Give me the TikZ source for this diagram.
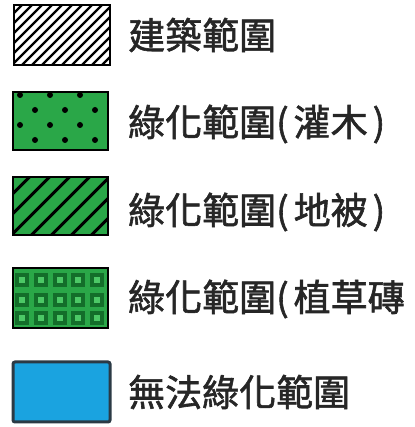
\documentclass[tikz,border=0pt]{standalone}
\usepackage{fontspec}
\newfontfamily\cjk{Noto Sans CJK TC}[FakeBold=1.6]
\definecolor{leafgreen}{HTML}{2AA748}
\definecolor{darkleaf}{HTML}{136E2A}
\definecolor{lightleaf}{HTML}{4CC866}
\definecolor{skyblue}{HTML}{1AA3E0}
\definecolor{slate}{HTML}{2B3A45}
\newcommand{\lp}{(\kern5pt}
\newcommand{\rp}{\kern5pt)}
\tikzset{
  legbox/.style={draw, line width=2.5pt, minimum width=95pt, minimum height=58pt, inner sep=0pt},
  legtext/.style={anchor=west, inner sep=0pt, text=black!85, font=\cjk\fontsize{37}{37}\selectfont}
}

\begin{document}
\begin{tikzpicture}[x=1pt, y=1pt]
  \useasboundingbox (0,0) rectangle (414,427);

  % Boxes
  \node[legbox, minimum width=96pt, minimum height=60pt, path picture={
      \foreach \i in {-9,...,9}
        \draw[line width=2.2pt] ([xshift=\i*10pt]path picture bounding box.center) ++(-40pt,-40pt) -- ++(80pt,80pt);
    }] (build) at (62,392) {};
  \node[legbox, fill=leafgreen, path picture={
      \foreach \r/\dy/\dx in {0/26/0,1/11/15,2/-4/0,3/-19/15}
        \foreach \c in {0,1,2}
          \fill[black] ([xshift=-40.5pt+\c*30pt+\dx pt, yshift=\dy pt]path picture bounding box.center) circle (3pt);
    }] (shrub) at (60.5,306) {};
  \node[legbox, fill=leafgreen, path picture={
      \foreach \i in {-5,...,5}
        \draw[line width=3pt] ([xshift=\i*20pt]path picture bounding box.center) ++(-40pt,-40pt) -- ++(80pt,80pt);
    }] (cover) at (60.5,221) {};
  \node[legbox, fill=leafgreen, minimum height=60pt, path picture={
      \foreach \c in {0,...,4}
        \foreach \dy in {18,-2,-20} {
          \fill[darkleaf] ([xshift=-38.5pt+\c*18.75pt, yshift=\dy pt]path picture bounding box.center) +(-7pt,-7pt) rectangle +(7pt,7pt);
          \fill[lightleaf] ([xshift=-38.5pt+\c*18.75pt, yshift=\dy pt]path picture bounding box.center) +(-3pt,-3pt) rectangle +(3pt,3pt);
        }
    }] (paver) at (60.5,129) {};
  \node[legbox, draw=slate, line width=3pt, fill=skyblue, rounded corners=2pt, minimum width=97pt, minimum height=60pt] (nogreen) at (61.5,35) {};

  % Labels
  \node[legtext] (buildtxt) at (128,392) {建築範圍};
  \node[legtext] (shrubtxt) at (128,303) {綠化範圍\lp 灌木\rp};
  \node[legtext] (covertxt) at (128,215) {綠化範圍\lp 地被\rp};
  \node[legtext] (pavertxt) at (128,128) {綠化範圍\lp 植草磚};
  \node[legtext] (nogreentxt) at (128,35) {無法綠化範圍};
\end{tikzpicture}
\end{document}
